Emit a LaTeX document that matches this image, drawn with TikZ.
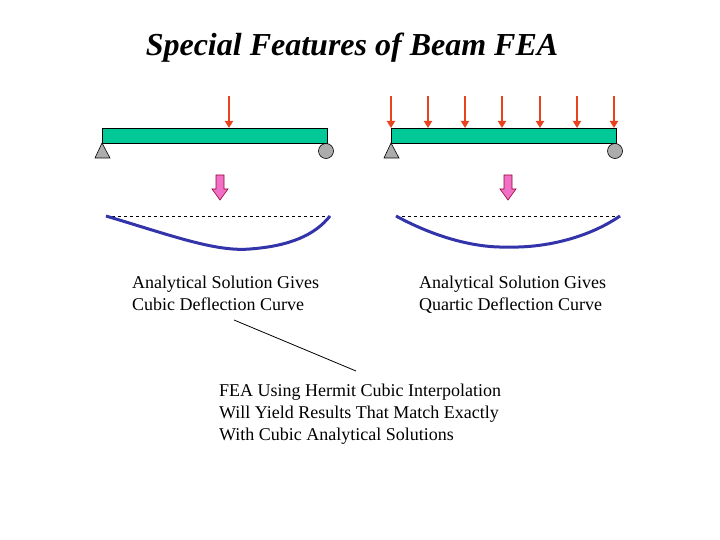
\documentclass[tikz,border=0pt]{standalone}
\usepackage{fontspec}
\setmainfont{Liberation Serif}
\usetikzlibrary{arrows.meta}
\definecolor{beamc}{HTML}{00C896}
\definecolor{loadc}{HTML}{E8431E}
\definecolor{pinkc}{HTML}{F070C8}
\definecolor{deflc}{HTML}{3333AA}
\begin{document}
\begin{tikzpicture}[x=1pt,y=-1pt,
  beam/.style={fill=beamc, draw=black, line width=0.8pt},
  load/.style={draw=loadc, line width=2.2pt, -{Triangle[length=7pt,width=8pt]}},
  pin/.style={fill=gray!65, draw=black, line width=0.6pt},
  pinkarrow/.style={fill=pinkc, draw=purple!80!black, line width=0.6pt},
  defl/.style={draw=deflc, line width=3pt},
  base/.style={dashed, line width=0.8pt},
  lbl/.style={anchor=north west, align=left, font=\fontsize{18}{21.8}\selectfont, inner sep=0pt}]
\useasboundingbox (0,0) rectangle (720,540);
\node (title) at (352,48) {\fontsize{32}{36}\selectfont\bfseries\itshape Special Features of Beam FEA};
% beam 1
\node[beam, minimum width=225pt, minimum height=15pt, inner sep=0pt] (b1) at (214.5,135.5) {};
\draw[pin] (102,143) -- (110,158) -- (95,158) -- cycle;
\draw[pin] (326,151) circle (7.5);
\draw[load] (229,96) -- (229,128);
\draw[pinkarrow] (216,175) -- (224,175) -- (224,189) -- (228,189) -- (220,200) -- (212,189) -- (216,189) -- cycle;
\draw[base] (106,216) -- (330,216);
\draw[defl] (106,216) .. controls (170,235) and (215,252) .. (250,249) .. controls (290,246) and (315,235) .. (330,216);
% beam 2
\node[beam, minimum width=225pt, minimum height=15pt, inner sep=0pt] (b2) at (503.5,135.5) {};
\draw[pin] (391,143) -- (399,158) -- (384,158) -- cycle;
\draw[pin] (615,151) circle (7.5);
\foreach \x in {391,428,465,502,540,577,614} \draw[load] (\x,96) -- (\x,128);
\draw[pinkarrow] (504,175) -- (512,175) -- (512,189) -- (516,189) -- (508,200) -- (500,189) -- (504,189) -- cycle;
\draw[base] (396,216) -- (620,216);
\draw[defl] (396,216) .. controls (440,240) and (480,248) .. (508,247) .. controls (540,248) and (585,240) .. (620,216);
% texts
\node[lbl] (t1) at (132,276) {Analytical Solution Gives\\Cubic Deflection Curve};
\node[lbl] (t2) at (419,276) {Analytical Solution Gives\\Quartic Deflection Curve};
\node[lbl] (t3) at (219,384) {FEA Using Hermit Cubic Interpolation\\Will Yield Results That Match Exactly\\With Cubic Analytical Solutions};
\coordinate (p1) at (234,320);
\coordinate (p2) at (356,371);
\draw[line width=0.8pt] (p1) -- (p2);
\end{tikzpicture}
\end{document}
